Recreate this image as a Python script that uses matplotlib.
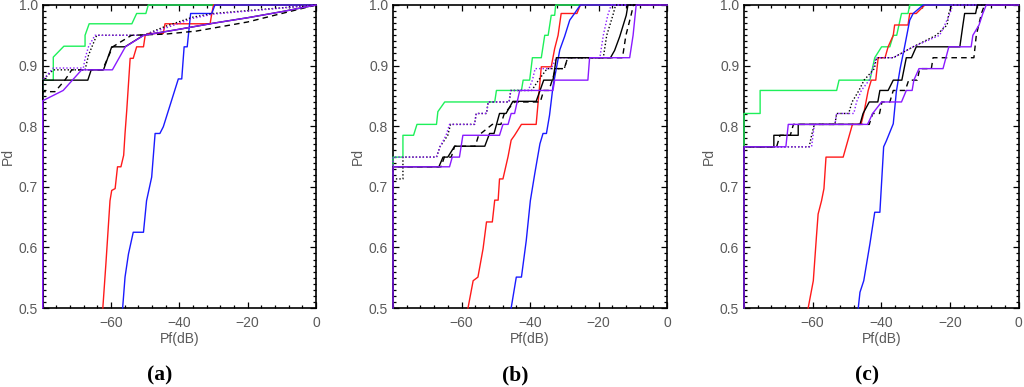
import matplotlib
matplotlib.use("Agg")
import matplotlib.pyplot as plt
from matplotlib.ticker import MultipleLocator, FixedLocator

plt.rcParams["font.family"] = ["Liberation Sans", "DejaVu Sans"]

# ---------------- data (Pf in dB, Pd) ----------------
# Panel (a)
a_green_x = [-80, -80, -76.9, -76.9, -73.8, -67.6, -67.6, -66.4, -53.9, -52.5, -49.8, -49.1, 0]
a_green_y = [0.845, 0.876, 0.876, 0.914, 0.932, 0.932, 0.95, 0.969, 0.969, 0.986, 0.986, 1.0, 1.0]
a_red_x = [-62.4, -61.5, -60.3, -59.8, -58.8, -58.1, -57.1, -56.3, -55.9, -55.4, -54.4, -53.5, -52.5, -50.5, -50.0, -49.1, -44.7, -44.2, -31.0, -30.5, -30.0, 0]
a_red_y = [0.5, 0.573, 0.677, 0.694, 0.697, 0.733, 0.733, 0.752, 0.788, 0.826, 0.912, 0.912, 0.931, 0.931, 0.95, 0.953, 0.953, 0.969, 0.969, 0.986, 1.0, 1.0]
a_blue_x = [-56.6, -55.9, -54.9, -53.5, -50.5, -49.6, -48.1, -47.1, -45.7, -44.7, -40.3, -39.3, -38.6, -37.7, -36.7, -30.5, -29.6, 0]
a_blue_y = [0.5, 0.551, 0.589, 0.625, 0.625, 0.677, 0.716, 0.788, 0.788, 0.799, 0.878, 0.878, 0.931, 0.931, 0.986, 0.986, 1.0, 1.0]
a_black_x = [-80, -80, -66.8, -65.8, -62.2, -59.8, -55.9, -50.5, -40, -30, -20, -10, 0]
a_black_y = [0.5, 0.876, 0.876, 0.893, 0.893, 0.931, 0.931, 0.95, 0.96, 0.97, 0.979, 0.989, 1.0]
a_dash_x = [-80, -80, -76.4, -73.5, -71.5, -62.5, -59.5, -57.5, -54, -44, -35, -20, 0]
a_dash_y = [0.5, 0.857, 0.857, 0.876, 0.893, 0.893, 0.931, 0.938, 0.95, 0.952, 0.957, 0.972, 1.0]
a_dot_x = [-80, -80, -76.9, -67.6, -66.6, -65.6, -64.2, -50.5, -44, -36, -30, 0]
a_dot_y = [0.5, 0.876, 0.893, 0.893, 0.917, 0.931, 0.95, 0.95, 0.965, 0.98, 0.986, 1.0]
a_vdot_x = [-80, -80, -76.9, -68.1, -67.6, -66.6, -64.7, -50.5, -44, -36, -30, 0]
a_vdot_y = [0.5, 0.876, 0.896, 0.896, 0.912, 0.931, 0.95, 0.95, 0.962, 0.978, 0.985, 1.0]
a_violet_x = [-80, -80, -74, -68.6, -59.6, -55.8, -50.4, -40, -30, -20, -10, 0]
a_violet_y = [0.5, 0.842, 0.859, 0.893, 0.893, 0.931, 0.95, 0.96, 0.97, 0.979, 0.989, 1.0]

# Panel (b)
b_green_x = [-80, -80, -77.1, -77.1, -74, -73, -67.3, -66.9, -64.9, -50.3, -49.8, -42.5, -42, -40.1, -39.3, -36.7, -35.7, -34.7, -33.8, -32.8, -32.5, 0]
b_green_y = [0.5, 0.749, 0.749, 0.785, 0.785, 0.803, 0.803, 0.824, 0.840, 0.840, 0.859, 0.859, 0.876, 0.876, 0.913, 0.913, 0.950, 0.950, 0.983, 0.983, 1.0, 1.0]
b_red_x = [-58.1, -56.6, -55.2, -53.7, -52.7, -51.0, -50.3, -49.3, -48.9, -47.9, -46.4, -45.5, -44.5, -42.5, -38.2, -37.4, -36.7, -33.8, -32.8, -31.8, -30.9, -26.3, -25.3, 0]
b_red_y = [0.5, 0.545, 0.551, 0.598, 0.642, 0.642, 0.678, 0.678, 0.713, 0.713, 0.75, 0.777, 0.785, 0.803, 0.803, 0.854, 0.898, 0.898, 0.928, 0.95, 0.986, 0.986, 1.0, 1.0]
b_blue_x = [-45.5, -44.0, -42.5, -41.1, -39.9, -38.6, -37.1, -36.2, -35.2, -34.3, -33.3, -31.3, -29.9, -28.4, -27.0, -25.3, 0]
b_blue_y = [0.5, 0.551, 0.551, 0.611, 0.677, 0.722, 0.771, 0.788, 0.788, 0.818, 0.865, 0.926, 0.948, 0.975, 0.986, 1.0, 1.0]
b_black_x = [-80, -80, -66.6, -65.4, -64, -62, -53.2, -51.8, -50.5, -48.9, -47, -45, -38.2, -36, -33.3, -32.3, -16.5, -15.3, -13.8, -11.9, -11.4, 0]
b_black_y = [0.5, 0.733, 0.733, 0.749, 0.749, 0.767, 0.767, 0.788, 0.788, 0.821, 0.821, 0.841, 0.841, 0.876, 0.876, 0.913, 0.913, 0.925, 0.948, 0.983, 1.0, 1.0]
b_dash_x = [-80, -80, -66, -65, -63, -62, -56, -55, -51, -48.5, -47.5, -44.5, -37, -36, -34.5, -33.5, -32.5, -30, -29, -13, -12, -10.5, -9.8, 0]
b_dash_y = [0.5, 0.733, 0.733, 0.749, 0.749, 0.767, 0.767, 0.785, 0.803, 0.803, 0.821, 0.840, 0.840, 0.859, 0.859, 0.876, 0.895, 0.895, 0.913, 0.913, 0.95, 0.983, 1.0, 1.0]
b_dot_x = [-80, -80, -77.1, -77.1, -67.3, -66.3, -64, -63.2, -56.2, -55.7, -52.7, -52.2, -46.1, -45.6, -39.5, -37.5, -35, -30, -29, -18.6, -17.6, -15.8, -15, 0]
b_dot_y = [0.5, 0.713, 0.713, 0.749, 0.749, 0.766, 0.785, 0.803, 0.803, 0.821, 0.821, 0.840, 0.840, 0.859, 0.859, 0.876, 0.895, 0.895, 0.913, 0.913, 0.95, 0.983, 1.0, 1.0]
b_vdot_x = [-80, -80, -67.3, -66.3, -64.5, -63.5, -56.2, -55.7, -52.7, -52.2, -46.1, -45.6, -40.5, -39.3, -38.5, -35.2, -33.8, -32.3, -19.6, -18.6, -17.3, -16.3, 0]
b_vdot_y = [0.5, 0.749, 0.749, 0.766, 0.785, 0.803, 0.803, 0.821, 0.821, 0.840, 0.840, 0.859, 0.859, 0.876, 0.895, 0.895, 0.895, 0.913, 0.913, 0.95, 0.983, 1.0, 1.0]
b_violet_x = [-80, -80, -63.5, -62.7, -60.6, -59.6, -48.9, -47.9, -46.4, -45.5, -44.5, -43.0, -33.3, -32.8, -23.1, -22.6, -10.9, -9.9, -9.0, 0]
b_violet_y = [0.5, 0.733, 0.733, 0.749, 0.749, 0.785, 0.785, 0.803, 0.803, 0.821, 0.821, 0.859, 0.859, 0.876, 0.876, 0.913, 0.913, 0.95, 1.0, 1.0]

# Panel (c)
c_green_x = [-80, -80, -75.3, -75.3, -53, -52.3, -43.3, -41.9, -39.9, -37.5, -36.5, -35.5, -34.1, -32.2, -31.7, 0]
c_green_y = [0.5, 0.821, 0.821, 0.859, 0.859, 0.876, 0.876, 0.913, 0.931, 0.931, 0.95, 0.95, 0.986, 0.986, 1.0, 1.0]
c_red_x = [-61.3, -59.8, -58.9, -58.4, -57.4, -56.7, -56.1, -51.1, -48.4, -45.9, -45.1, -43.8, -42.9, -41.6, -40.9, -38.9, -38.0, -36.5, -36.1, -32.2, -31.7, -29.8, -27.3, 0]
c_red_y = [0.5, 0.545, 0.617, 0.655, 0.677, 0.697, 0.749, 0.749, 0.803, 0.803, 0.821, 0.859, 0.876, 0.876, 0.913, 0.913, 0.931, 0.95, 0.967, 0.967, 0.986, 0.986, 1.0, 1.0]
c_blue_x = [-46.7, -46.2, -45.1, -43.3, -41.9, -40.4, -39.3, -38.5, -36.5, -35.6, -34.5, -33.2, -31.7, -30.7, -27.8, 0]
c_blue_y = [0.5, 0.526, 0.545, 0.606, 0.658, 0.658, 0.766, 0.776, 0.804, 0.857, 0.895, 0.931, 0.975, 0.986, 1.0, 1.0]
c_black_x = [-80, -80, -71.3, -71.3, -64.2, -64.2, -46.2, -45.3, -43.5, -41, -40.4, -38, -36.5, -34, -32.7, -31.2, -29.8, -17.1, -16.2, -15.7, -12.5, -12, 0]
c_black_y = [0.5, 0.766, 0.766, 0.785, 0.785, 0.803, 0.803, 0.821, 0.840, 0.840, 0.859, 0.859, 0.876, 0.876, 0.913, 0.913, 0.931, 0.931, 0.967, 0.986, 0.986, 1.0, 1.0]
c_dash_x = [-80, -80, -70.5, -69.5, -66.5, -65.6, -43.5, -42.5, -40.5, -39.8, -37.5, -36.5, -33, -32, -29.5, -28.8, -25.4, -24.9, -13, -12.3, -10.8, -9.9, 0]
c_dash_y = [0.5, 0.766, 0.766, 0.785, 0.785, 0.803, 0.803, 0.821, 0.821, 0.840, 0.840, 0.859, 0.859, 0.876, 0.876, 0.895, 0.895, 0.913, 0.913, 0.95, 0.986, 1.0, 1.0]
c_dot_x = [-80, -80, -61, -60.3, -59.5, -53.5, -53, -49.5, -48.5, -46.5, -45, -42, -41.4, -36.5, -30.7, -24, -20.8, -20.3, -19.5, 0]
c_dot_y = [0.5, 0.766, 0.766, 0.785, 0.803, 0.803, 0.821, 0.821, 0.840, 0.859, 0.876, 0.895, 0.913, 0.913, 0.931, 0.95, 0.967, 0.986, 1.0, 1.0]
c_vdot_x = [-80, -80, -60.3, -59.5, -53.5, -53, -48, -47.2, -45.8, -43.5, -42.5, -41.4, -36.5, -30.7, -23, -21.5, -20, -19.2, 0]
c_vdot_y = [0.5, 0.766, 0.766, 0.803, 0.803, 0.821, 0.821, 0.84, 0.859, 0.876, 0.895, 0.913, 0.913, 0.931, 0.95, 0.967, 0.986, 1.0, 1.0]
c_violet_x = [-80, -80, -67.8, -67.1, -44, -42.5, -39.9, -34.1, -32.7, -31.0, -30.5, -29.0, -22.0, -20.3, -13.8, -13.3, -11.5, -10.4, -9.4, 0]
c_violet_y = [0.5, 0.766, 0.766, 0.803, 0.803, 0.821, 0.840, 0.840, 0.859, 0.859, 0.876, 0.895, 0.895, 0.931, 0.931, 0.95, 0.967, 0.986, 1.0, 1.0]

x_ticks = [-60, -40, -20, 0]
y_ticks = [0.5, 0.6, 0.7, 0.8, 0.9, 1.0]
captions = ["(a)", "(b)", "(c)"]

# ---------------- styles ----------------
GREEN = "#1ef05a"
RED = "#ff1a1a"
BLUE = "#1a1aff"
VIOLET = "#8a1aff"
BLACK = "#000000"
TXT = "#5a5a5a"

panels = [
    [(a_green_x, a_green_y, GREEN, "-"), (a_red_x, a_red_y, RED, "-"), (a_blue_x, a_blue_y, BLUE, "-"),
     (a_dot_x, a_dot_y, BLACK, ":"), (a_vdot_x, a_vdot_y, VIOLET, ":"), (a_dash_x, a_dash_y, BLACK, "--"),
     (a_black_x, a_black_y, BLACK, "-"), (a_violet_x, a_violet_y, VIOLET, "-")],
    [(b_green_x, b_green_y, GREEN, "-"), (b_red_x, b_red_y, RED, "-"), (b_blue_x, b_blue_y, BLUE, "-"),
     (b_dot_x, b_dot_y, BLACK, ":"), (b_vdot_x, b_vdot_y, VIOLET, ":"), (b_dash_x, b_dash_y, BLACK, "--"),
     (b_black_x, b_black_y, BLACK, "-"), (b_violet_x, b_violet_y, VIOLET, "-")],
    [(c_green_x, c_green_y, GREEN, "-"), (c_red_x, c_red_y, RED, "-"), (c_blue_x, c_blue_y, BLUE, "-"),
     (c_dot_x, c_dot_y, BLACK, ":"), (c_vdot_x, c_vdot_y, VIOLET, ":"), (c_dash_x, c_dash_y, BLACK, "--"),
     (c_black_x, c_black_y, BLACK, "-"), (c_violet_x, c_violet_y, VIOLET, "-")],
]

fig = plt.figure(figsize=(10.24, 3.87), dpi=100)
lefts = [42.7, 393.0, 744.0]
widths = [273.3, 274.0, 274.5]
cap_x = [160, 515, 867]
bottom = 79 / 387
height = 303 / 387

for i, series in enumerate(panels):
    ax = fig.add_axes([lefts[i] / 1024, bottom, widths[i] / 1024, height])
    for xs, ys, col, ls in series:
        if ls == "--":
            ax.plot(xs, ys, color=col, lw=1.0, ls=(0, (4, 3)), clip_on=False, zorder=3)
        elif ls == ":":
            ax.plot(xs, ys, color=col, lw=1.0, ls=(0, (1, 1.5)), clip_on=False, zorder=3)
        else:
            ax.plot(xs, ys, color=col, lw=1.0, ls=ls, clip_on=False, zorder=3)
    ax.set_xlim(-80, 0)
    ax.set_ylim(0.5, 1.0)
    ax.xaxis.set_major_locator(FixedLocator(x_ticks))
    ax.xaxis.set_minor_locator(MultipleLocator(4))
    ax.yaxis.set_major_locator(FixedLocator(y_ticks))
    ax.yaxis.set_minor_locator(MultipleLocator(0.01))
    ax.set_yticklabels([f"{v:.1f}" for v in y_ticks])
    ax.tick_params(which="both", direction="in", top=True, right=True, colors=BLACK,
                   labelcolor=TXT, labelsize=10, width=0.9)
    ax.tick_params(which="major", length=4)
    ax.tick_params(which="minor", length=2)
    ax.tick_params(axis="x", pad=6)
    ax.tick_params(axis="y", pad=3.5)
    for s in ax.spines.values():
        s.set_linewidth(1.2)
        s.set_zorder(2)
    ax.set_xlabel("Pf(dB)", color=TXT, fontsize=10, labelpad=1)
    ax.set_ylabel("Pd", color=TXT, fontsize=10, labelpad=3)
    fig.text(cap_x[i] / 1024, 1 - 375 / 387, captions[i], ha="center", va="center",
             fontsize=15.5, fontweight="bold", family="Liberation Serif", color="black")

fig.savefig("out.png", dpi=100)
